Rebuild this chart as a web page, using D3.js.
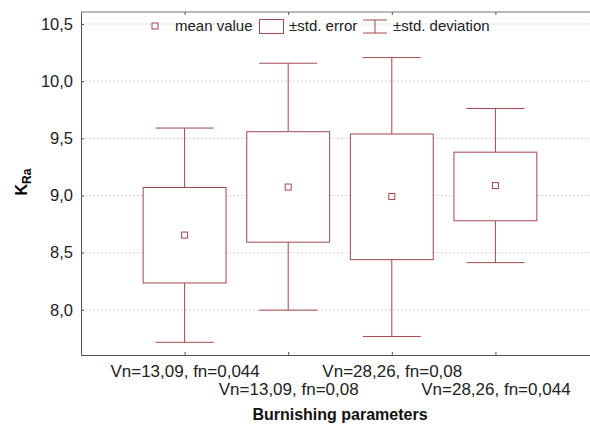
<!DOCTYPE html>
<html>
<head>
<meta charset="utf-8">
<script src="https://cdn.jsdelivr.net/npm/d3@7"></script>
<style>
  body { margin: 0; background: #fff; }
  svg { display: block; font-family: "Liberation Sans", Arial, sans-serif; }
  .axis path, .axis line { stroke: #555; }
  .axis text { fill: #222; }
</style>
</head>
<body>
<svg id="chart" width="590" height="426"></svg>
<script>
const categories = ["Vn=13,09, fn=0,044", "Vn=13,09, fn=0,08", "Vn=28,26, fn=0,08", "Vn=28,26, fn=0,044"]
const means  = [8.654, 9.074, 8.991, 9.087]
const seLow  = [8.235, 8.592, 8.439, 8.779]
const seHigh = [9.070, 9.558, 9.538, 9.379]
const sdLow  = [7.716, 7.997, 7.767, 8.413]
const sdHigh = [9.590, 10.157, 10.206, 9.761]
const yTicks = [8.0, 8.5, 9.0, 9.5, 10.0, 10.5]

const red = "#a3484f"
const plotLeft = 81, plotTop = 12, plotBottom = 355

const svg = d3.select("#chart")

// positions 1..4, frame runs past the right edge of the window
const x = d3.scaleLinear().domain([0, 5]).range([plotLeft, 599])
const y = d3.scaleLinear().domain([7.605, 10.605]).range([plotBottom, plotTop])
const step = x(1) - x(0)

const fmt = d => d3.format(".1f")(d).replace(".", ",")

/* grid */
svg.append("g")
  .selectAll("line")
  .data(yTicks)
  .enter().append("line")
    .attr("x1", plotLeft).attr("x2", 590)
    .attr("y1", d => y(d)).attr("y2", d => y(d))
    .attr("stroke", "#d4d4d4")
    .attr("stroke-dasharray", "2,2")

/* frame lines */
svg.append("line")
  .attr("x1", plotLeft).attr("x2", 590).attr("y1", plotTop).attr("y2", plotTop)
  .attr("stroke", "#777")

svg.append("g")
  .attr("class", "axis")
  .attr("transform", "translate(0," + plotTop + ")")
  .call(d3.axisTop(x).tickValues([1, 2, 3, 4]).tickSize(-3).tickFormat(""))
  .call(g => g.select(".domain").remove())

svg.append("g")
  .attr("class", "axis")
  .attr("transform", "translate(" + plotLeft + ",0)")
  .call(d3.axisLeft(y).tickValues(yTicks).tickSize(-3).tickSizeOuter(0).tickPadding(8).tickFormat(fmt))
  .selectAll("text")
    .style("font-size", "16.5px")

const xAxis = svg.append("g")
  .attr("class", "axis")
  .attr("transform", "translate(0," + plotBottom + ")")
  .call(d3.axisBottom(x).tickValues([1, 2, 3, 4]).tickSize(-3).tickSizeOuter(0).tickFormat(""))

xAxis.selectAll(".tick")
  .append("text")
    .attr("y", (d, i) => i % 2 === 0 ? 22 : 40)
    .attr("fill", "#222")
    .attr("text-anchor", "middle")
    .style("font-size", "17px")
    .text((d, i) => categories[i])

/* boxes */
const idx = d3.range(categories.length)
const boxW = step * 0.8, capW = step * 0.56
const g = svg.append("g")

g.selectAll(".whisker-up")
  .data(idx).enter().append("line")
    .attr("x1", i => x(i + 1)).attr("x2", i => x(i + 1))
    .attr("y1", i => y(seHigh[i])).attr("y2", i => y(sdHigh[i]))
    .attr("stroke", red)

g.selectAll(".whisker-down")
  .data(idx).enter().append("line")
    .attr("x1", i => x(i + 1)).attr("x2", i => x(i + 1))
    .attr("y1", i => y(seLow[i])).attr("y2", i => y(sdLow[i]))
    .attr("stroke", red)

g.selectAll(".cap-top")
  .data(idx).enter().append("line")
    .attr("x1", i => x(i + 1) - capW / 2).attr("x2", i => x(i + 1) + capW / 2)
    .attr("y1", i => y(sdHigh[i])).attr("y2", i => y(sdHigh[i]))
    .attr("stroke", red)

g.selectAll(".cap-bottom")
  .data(idx).enter().append("line")
    .attr("x1", i => x(i + 1) - capW / 2).attr("x2", i => x(i + 1) + capW / 2)
    .attr("y1", i => y(sdLow[i])).attr("y2", i => y(sdLow[i]))
    .attr("stroke", red)

g.selectAll(".box")
  .data(idx).enter().append("rect")
    .attr("x", i => x(i + 1) - boxW / 2)
    .attr("width", boxW)
    .attr("y", i => y(seHigh[i]))
    .attr("height", i => y(seLow[i]) - y(seHigh[i]))
    .attr("fill", "white")
    .attr("stroke", red)

g.selectAll(".mean")
  .data(idx).enter().append("rect")
    .attr("x", i => x(i + 1) - 3)
    .attr("y", i => y(means[i]) - 3)
    .attr("width", 6).attr("height", 6)
    .attr("fill", "white")
    .attr("stroke", red)

/* legend */
const leg = svg.append("g").style("font-size", "15px").attr("fill", "#222")
leg.append("rect").attr("x", 152).attr("y", 23).attr("width", 6).attr("height", 6)
  .attr("fill", "white").attr("stroke", red)
leg.append("text").attr("x", 175).attr("y", 31).text("mean value")
leg.append("rect").attr("x", 259.5).attr("y", 19.5).attr("width", 24).attr("height", 14)
  .attr("fill", "white").attr("stroke", red)
leg.append("text").attr("x", 289).attr("y", 31).text("±std. error")
leg.append("line").attr("x1", 363).attr("x2", 387).attr("y1", 20).attr("y2", 20).attr("stroke", red)
leg.append("line").attr("x1", 375).attr("x2", 375).attr("y1", 20).attr("y2", 33).attr("stroke", red)
leg.append("line").attr("x1", 363).attr("x2", 387).attr("y1", 33).attr("y2", 33).attr("stroke", red)
leg.append("text").attr("x", 393).attr("y", 31).text("±std. deviation")

/* axis titles */
svg.append("text")
  .attr("x", 340).attr("y", 420)
  .attr("text-anchor", "middle")
  .style("font-size", "16px").style("font-weight", "bold")
  .attr("fill", "#111")
  .text("Burnishing parameters")

const yl = svg.append("text")
  .attr("transform", "translate(27,182) rotate(-90)")
  .attr("text-anchor", "middle")
  .style("font-weight", "bold")
yl.append("tspan").style("font-size", "16px").text("K")
yl.append("tspan").style("font-size", "12px").attr("dy", 4).text("Ra")
</script>
</body>
</html>
